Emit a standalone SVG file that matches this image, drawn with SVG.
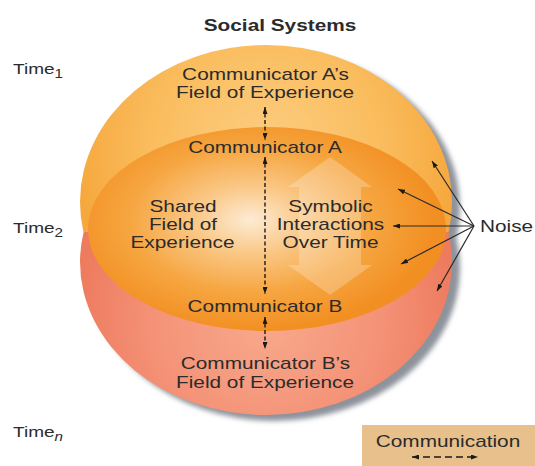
<svg xmlns="http://www.w3.org/2000/svg" width="535" height="466" viewBox="0 0 535 466">
<defs>
<style>
text{font-family:"Liberation Sans",Arial,sans-serif;fill:#2b2b2b;font-size:16px}
.c{text-anchor:middle}
.b{font-weight:bold}
.t{font-size:15px}
.sub{font-size:12px}
.dash{stroke:#1a1a1a;stroke-width:1.4;stroke-dasharray:4 2.5;fill:none}
.ldash{stroke:#1a1a1a;stroke-width:1.4;stroke-dasharray:7 4;fill:none}
.noise{stroke:#2a2a2a;stroke-width:1.2;fill:none}
</style>
<marker id="ah" viewBox="0 0 7 5" refX="7" refY="2.5" markerWidth="7" markerHeight="5" markerUnits="userSpaceOnUse" orient="auto-start-reverse">
<path d="M0,0 L7,2.5 L0,5 z" fill="#1a1a1a"/>
</marker>
<clipPath id="clipTop"><rect x="0" y="0" width="535" height="232"/></clipPath>
<clipPath id="clipBot"><rect x="0" y="232" width="535" height="234"/></clipPath>
<radialGradient id="gTop" cx="266" cy="150" r="190" gradientUnits="userSpaceOnUse">
<stop offset="0" stop-color="#FDCD82"/>
<stop offset="0.6" stop-color="#FABD5E"/>
<stop offset="1" stop-color="#F6A83E"/>
</radialGradient>
<radialGradient id="gBot" cx="266" cy="320" r="190" gradientUnits="userSpaceOnUse">
<stop offset="0" stop-color="#F8A98C"/>
<stop offset="0.6" stop-color="#F49277"/>
<stop offset="1" stop-color="#EE7B5E"/>
</radialGradient>
<radialGradient id="gIn" cx="250" cy="220" r="185" gradientTransform="translate(250 220) scale(1 0.6) translate(-250 -220)" gradientUnits="userSpaceOnUse">
<stop offset="0" stop-color="#FDEBD4"/>
<stop offset="0.3" stop-color="#FAC887"/>
<stop offset="0.65" stop-color="#F6A641"/>
<stop offset="1" stop-color="#F28F22"/>
</radialGradient>
<filter id="blur" x="-10%" y="-10%" width="120%" height="120%"><feGaussianBlur stdDeviation="2.5"/></filter>
</defs>

<rect width="535" height="466" fill="#ffffff"/>

<g id="shadow" fill="#8E939B" filter="url(#blur)" transform="translate(8 6)">
<ellipse cx="266" cy="202" rx="186" ry="157" clip-path="url(#clipTop)"/>
<ellipse cx="266" cy="262" rx="186" ry="153" clip-path="url(#clipBot)"/>
</g>

<g id="fieldB">
<ellipse cx="266" cy="262" rx="186" ry="153" fill="url(#gBot)" clip-path="url(#clipBot)"/>
<text class="c" transform="translate(265.5 369) scale(1.3 1)">Communicator B’s</text>
<text class="c" transform="translate(265 388) scale(1.3 1)">Field of Experience</text>
</g>

<g id="fieldA">
<ellipse cx="266" cy="202" rx="186" ry="157" fill="url(#gTop)" clip-path="url(#clipTop)"/>
<text class="c" transform="translate(265.5 80) scale(1.3 1)">Communicator A’s</text>
<text class="c" transform="translate(265 98) scale(1.3 1)">Field of Experience</text>
</g>

<g id="shared">
<ellipse cx="267" cy="229" rx="179" ry="102" fill="url(#gIn)"/>
<path d="M330,157 L372,187 L361,187 L361,265 L372,265 L330,295 L288,265 L299,265 L299,187 L288,187 Z" fill="#ffffff" fill-opacity="0.24"/>
<text class="c" transform="translate(183 212) scale(1.3 1)">Shared</text>
<text class="c" transform="translate(183 230) scale(1.3 1)">Field of</text>
<text class="c" transform="translate(182.5 248) scale(1.3 1)">Experience</text>
</g>

<g id="symbolic">
<text class="c" transform="translate(330.5 212) scale(1.3 1)">Symbolic</text>
<text class="c" transform="translate(330.5 230) scale(1.3 1)">Interactions</text>
<text class="c" transform="translate(330.5 248) scale(1.3 1)">Over Time</text>
</g>

<g id="commA">
<text class="c" transform="translate(265 153) scale(1.3 1)">Communicator A</text>
</g>

<g id="commB">
<text class="c" transform="translate(265 312) scale(1.3 1)">Communicator B</text>
</g>

<g id="title">
<text class="c b" transform="translate(280 31) scale(1.3 1)">Social Systems</text>
</g>

<g id="times">
<text class="t" transform="translate(13 74) scale(1.27 1)">Time<tspan class="sub" dy="3.5">1</tspan></text>
<text class="t" transform="translate(13 233) scale(1.27 1)">Time<tspan class="sub" dy="3.5">2</tspan></text>
<text class="t" transform="translate(13 437) scale(1.27 1)">Time<tspan class="sub" dy="3.5" font-style="italic">n</tspan></text>
</g>

<g id="noise">
<text transform="translate(480 232) scale(1.3 1)">Noise</text>
</g>

<g id="legend">
<rect x="362" y="425" width="173" height="41" fill="#E8C08C"/>
<text class="c" transform="translate(448 447) scale(1.3 1)">Communication</text>
<line class="ldash" x1="412" y1="457" x2="478" y2="457" marker-start="url(#ah)" marker-end="url(#ah)"/>
</g>

<g id="connectors">
<line class="dash" x1="265" y1="107" x2="265" y2="140" marker-start="url(#ah)" marker-end="url(#ah)"/>
<line class="dash" x1="265" y1="157" x2="265" y2="294" marker-start="url(#ah)" marker-end="url(#ah)"/>
<line class="dash" x1="265" y1="317" x2="265" y2="349" marker-start="url(#ah)" marker-end="url(#ah)"/>
<line class="noise" x1="474" y1="226" x2="432" y2="161" marker-end="url(#ah)"/>
<line class="noise" x1="474" y1="226" x2="398" y2="189" marker-end="url(#ah)"/>
<line class="noise" x1="474" y1="226" x2="393" y2="226" marker-end="url(#ah)"/>
<line class="noise" x1="474" y1="226" x2="401" y2="264" marker-end="url(#ah)"/>
<line class="noise" x1="474" y1="226" x2="437" y2="291" marker-end="url(#ah)"/>
</g>
</svg>
